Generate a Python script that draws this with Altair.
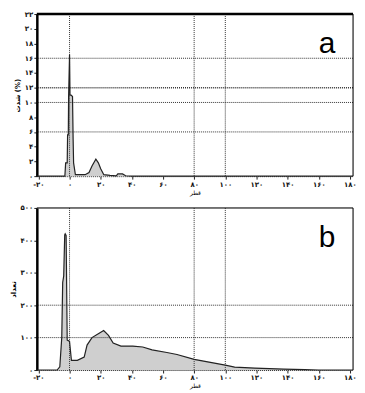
import altair as alt
import pandas as pd

# ---------------- data ----------------
x_ticks = [-20, 0, 20, 40, 60, 80, 100, 120, 140, 160, 180]
x_tick_labels = ["-۲۰", "۰", "۲۰", "۴۰", "۶۰", "۸۰", "۱۰۰", "۱۲۰", "۱۴۰", "۱۶۰", "۱۸۰"]

a_y_ticks = [0, 2, 4, 6, 8, 10, 12, 14, 16, 18, 20, 22]
a_y_tick_labels = ["۰", "۲", "۴", "۶", "۸", "۱۰", "۱۲", "۱۴", "۱۶", "۱۸", "۲۰", "۲۲"]

b_y_ticks = [0, 100, 200, 300, 400, 500]
b_y_tick_labels = ["۰", "۱۰۰", "۲۰۰", "۳۰۰", "۴۰۰", "۵۰۰"]

# panel a distribution
a_x = [-21, -3, -2.5, -1.5, -1.25, -0.8, -0.6, 0, 0.3, 1, 1.9, 2.3, 2.6, 3.75, 6, 10, 12.5, 14.5,
       16.9, 18.5, 20, 22, 26, 30, 31, 34, 36, 40, 182]
a_y = [0, 0, 1.8, 1.8, 5.6, 5.6, 10.8, 16.5, 11, 11, 10.8, 5, 1.8, 0.2, 0.2, 0.2, 0.5, 1.4,
       2.3, 1.8, 1.0, 0.2, 0.1, 0.05, 0.3, 0.3, 0.05, 0, 0]

# panel b distribution
b_x = [-21, -8, -6.25, -5, -4.4, -3.75, -3.1, -2.8, -2.2, -1.5, -0.5, 0, 1.2, 5, 9.4, 11.25, 14.4,
       18.75, 21.9, 25, 28, 33, 40.6, 47, 53, 62.5, 69, 80, 100, 106, 119, 137.5, 151, 160, 182]
b_y = [0, 0, 10, 100, 270, 290, 417, 420, 415, 92, 90, 88, 30, 30, 40, 77, 100,
       113, 122, 107, 83, 74, 74, 71, 62, 54, 48, 33, 15, 9, 6, 3, 1, 0, 0]

grid_x = [0, 80, 100]
a_grid_y = [6, 10, 12, 16]
a_grid_w = [1, 1, 1.6, 1]
b_grid_y = [100, 200]
b_grid_w = [1, 1]

x_title = "قطر"
a_y_title = "شدت (%)"
b_y_title = "تعداد"

W = 318
H = 163
FONT = "DejaVu Sans"


def label_expr(vals, labels):
    expr = "''"
    for v, l in reversed(list(zip(vals, labels))):
        expr = f"datum.value == {v} ? '{l}' : {expr}"
    return expr


def panel(xs, ys, yticks, ylabels, ydomain, gy, gw, letter, ytitle, top_thick):
    df = pd.DataFrame({"x": xs, "y": ys})
    xscale = alt.Scale(domain=[-21, 182], nice=False, zero=False)
    yscale = alt.Scale(domain=ydomain, nice=False)
    xaxis = alt.Axis(values=x_ticks, labelExpr=label_expr(x_ticks, x_tick_labels), grid=False,
                     domainColor="#333", domainDash=[1, 1], tickColor="#222", tickSize=3,
                     labelFont=FONT, labelFontSize=7, labelFontWeight="bold", labelColor="#111",
                     labelPadding=1, labelOverlap=False, title=x_title, titleFont=FONT,
                     titleFontSize=6, titleFontWeight="normal", titlePadding=2, labelFlush=True)
    yaxis = alt.Axis(values=yticks, labelExpr=label_expr(yticks, ylabels), grid=False,
                     domainColor="black", domainWidth=2.5, tickColor="#222", tickSize=3,
                     labelFont=FONT, labelFontSize=7, labelFontWeight="bold", labelColor="#111",
                     labelPadding=1, labelOverlap=False, title=ytitle, titleFont=FONT,
                     titleFontSize=7, titleFontWeight="bold", titlePadding=4, labelFlush=False)
    X = lambda f: alt.X(f, scale=xscale, axis=xaxis)
    Y = lambda f: alt.Y(f, scale=yscale, axis=yaxis)
    area = alt.Chart(df).mark_area(color="#cfcfcf", opacity=1).encode(x=X("x:Q"), y=Y("y:Q"))
    line = alt.Chart(df).mark_line(color="#222", strokeWidth=1.2).encode(x=X("x:Q"), y=Y("y:Q"))
    vgrid = alt.Chart(pd.DataFrame({"x": grid_x})).mark_rule(
        color="#333", strokeDash=[1, 1], strokeWidth=1).encode(x=X("x:Q"))
    hgrid = alt.Chart(pd.DataFrame({"y": gy, "w": gw})).mark_rule(
        color="#333", strokeDash=[1, 1]).encode(
        y=Y("y:Q"), strokeWidth=alt.StrokeWidth("w:Q", scale=None))
    top = alt.Chart(pd.DataFrame({"k": [0]})).mark_rule(
        color="black", strokeWidth=2.5 if top_thick else 1).encode(
        x=alt.value(0), x2=alt.value(W), y=alt.value(0))
    right = alt.Chart(pd.DataFrame({"k": [0]})).mark_rule(color="black", strokeWidth=1).encode(
        x=alt.value(W), y=alt.value(0), y2=alt.value(H))
    txt = alt.Chart(pd.DataFrame({"t": [letter]})).mark_text(
        font="Liberation Sans", fontSize=30, color="black", align="center", baseline="middle").encode(
        x=alt.value(W - 26), y=alt.value(30), text="t:N")
    return alt.layer(area, vgrid, hgrid, line, top, right, txt).properties(width=W, height=H)


pa = panel(a_x, a_y, a_y_ticks, a_y_tick_labels, [0, 22], a_grid_y, a_grid_w, "a", a_y_title, True)
pb = panel(b_x, b_y, b_y_ticks, b_y_tick_labels, [0, 500], b_grid_y, b_grid_w, "b", b_y_title, False)

chart = alt.vconcat(pa, pb, spacing=7).properties(padding=0).configure_view(stroke=None).configure(
    background="white")

chart.save("out.html", embed_options={"renderer": "svg", "actions": False})
